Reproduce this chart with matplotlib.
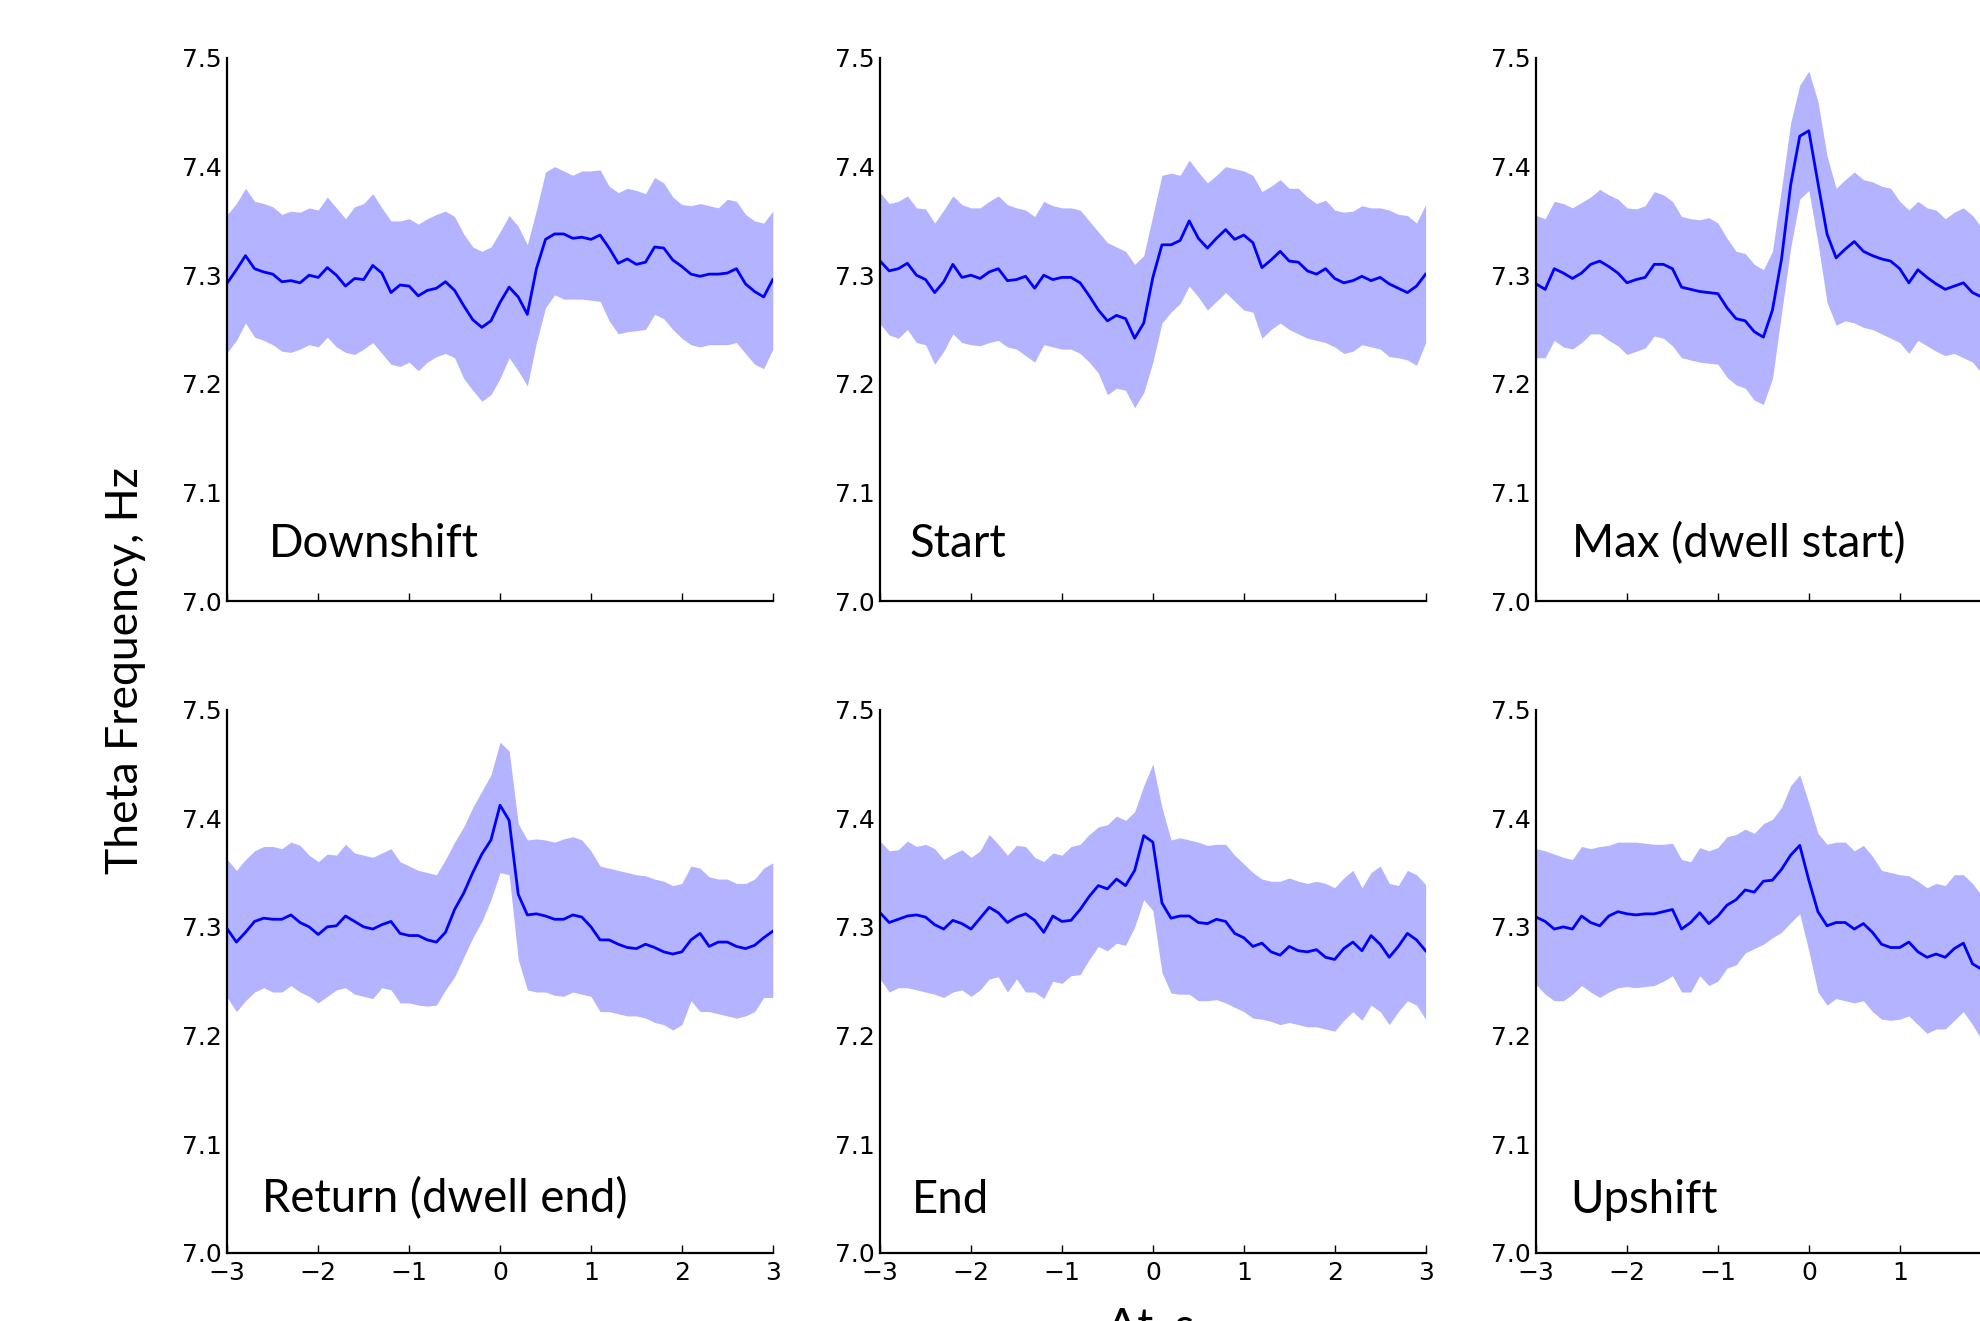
import matplotlib
matplotlib.use('Agg')
import matplotlib.pyplot as plt
import numpy as np
from matplotlib.ticker import FixedLocator, FixedFormatter, FormatStrFormatter

# time grid (s), 0.1 s steps; right column is cropped at about +1.9 s
t = np.linspace(-3, 3, 61)

downshift_mean = [7.293, 7.305, 7.318, 7.306, 7.303, 7.301, 7.294, 7.295, 7.293, 7.300,
                  7.298, 7.307, 7.300, 7.290, 7.297, 7.296, 7.309, 7.302, 7.284, 7.291,
                  7.290, 7.281, 7.286, 7.288, 7.294, 7.286, 7.272, 7.259, 7.252, 7.258,
                  7.275, 7.289, 7.280, 7.264, 7.306, 7.333, 7.338, 7.338, 7.334, 7.335,
                  7.333, 7.337, 7.325, 7.311, 7.315, 7.310, 7.312, 7.326, 7.325, 7.314,
                  7.308, 7.301, 7.299, 7.301, 7.301, 7.302, 7.306, 7.292, 7.285, 7.280,
                  7.296]
downshift_hi = [7.356, 7.366, 7.380, 7.368, 7.366, 7.363, 7.356, 7.359, 7.358, 7.362,
                7.360, 7.372, 7.362, 7.352, 7.363, 7.366, 7.375, 7.362, 7.350, 7.350,
                7.352, 7.347, 7.352, 7.356, 7.359, 7.354, 7.338, 7.326, 7.322, 7.326,
                7.340, 7.355, 7.345, 7.328, 7.360, 7.395, 7.400, 7.396, 7.392, 7.396,
                7.396, 7.397, 7.382, 7.376, 7.380, 7.378, 7.375, 7.390, 7.385, 7.372,
                7.365, 7.364, 7.366, 7.364, 7.362, 7.370, 7.368, 7.356, 7.350, 7.348,
                7.359]
downshift_lo = [7.229, 7.240, 7.256, 7.243, 7.240, 7.236, 7.230, 7.229, 7.232, 7.236,
                7.234, 7.243, 7.234, 7.229, 7.227, 7.232, 7.238, 7.228, 7.218, 7.216,
                7.220, 7.212, 7.220, 7.225, 7.228, 7.224, 7.205, 7.194, 7.184, 7.190,
                7.205, 7.224, 7.212, 7.198, 7.238, 7.270, 7.282, 7.278, 7.278, 7.278,
                7.277, 7.276, 7.258, 7.246, 7.248, 7.249, 7.250, 7.264, 7.260, 7.250,
                7.242, 7.236, 7.234, 7.236, 7.236, 7.236, 7.238, 7.228, 7.218, 7.214,
                7.232]

start_mean = [7.313, 7.304, 7.306, 7.311, 7.300, 7.296, 7.284, 7.294, 7.310, 7.298,
              7.300, 7.297, 7.303, 7.306, 7.295, 7.296, 7.299, 7.288, 7.300, 7.296,
              7.298, 7.298, 7.293, 7.281, 7.268, 7.258, 7.263, 7.260, 7.242, 7.256,
              7.298, 7.328, 7.328, 7.332, 7.350, 7.334, 7.325, 7.334, 7.342, 7.333,
              7.337, 7.330, 7.307, 7.314, 7.322, 7.313, 7.312, 7.304, 7.301, 7.306,
              7.297, 7.293, 7.295, 7.299, 7.295, 7.298, 7.292, 7.288, 7.284, 7.290,
              7.301]
start_hi = [7.376, 7.366, 7.368, 7.373, 7.362, 7.361, 7.348, 7.360, 7.373, 7.365,
            7.362, 7.362, 7.368, 7.373, 7.365, 7.362, 7.360, 7.354, 7.368, 7.364,
            7.362, 7.362, 7.360, 7.350, 7.340, 7.330, 7.326, 7.322, 7.310, 7.318,
            7.355, 7.392, 7.394, 7.392, 7.406, 7.395, 7.385, 7.392, 7.400, 7.398,
            7.396, 7.392, 7.377, 7.382, 7.388, 7.380, 7.380, 7.372, 7.366, 7.369,
            7.360, 7.358, 7.359, 7.364, 7.362, 7.362, 7.360, 7.356, 7.355, 7.348,
            7.365]
start_lo = [7.255, 7.245, 7.242, 7.250, 7.238, 7.236, 7.218, 7.230, 7.246, 7.238,
            7.236, 7.235, 7.238, 7.240, 7.234, 7.232, 7.226, 7.220, 7.236, 7.234,
            7.232, 7.232, 7.228, 7.220, 7.210, 7.190, 7.196, 7.194, 7.178, 7.192,
            7.220, 7.256, 7.266, 7.274, 7.290, 7.280, 7.268, 7.276, 7.284, 7.276,
            7.268, 7.266, 7.242, 7.250, 7.256, 7.250, 7.246, 7.242, 7.240, 7.238,
            7.234, 7.228, 7.230, 7.236, 7.234, 7.232, 7.225, 7.224, 7.222, 7.217,
            7.238]

max_mean = [7.292, 7.287, 7.306, 7.302, 7.297, 7.302, 7.310, 7.313, 7.308, 7.302,
            7.293, 7.296, 7.298, 7.310, 7.310, 7.306, 7.289, 7.287, 7.285, 7.284,
            7.283, 7.270, 7.260, 7.258, 7.248, 7.243, 7.268, 7.315, 7.383, 7.428,
            7.433, 7.385, 7.338, 7.316, 7.324, 7.331, 7.322, 7.318, 7.315, 7.313,
            7.306, 7.293, 7.305, 7.298, 7.292, 7.287, 7.290, 7.293, 7.284, 7.280,
            7.285]
max_hi = [7.355, 7.352, 7.368, 7.366, 7.362, 7.367, 7.372, 7.379, 7.374, 7.370,
          7.362, 7.361, 7.364, 7.377, 7.374, 7.368, 7.354, 7.352, 7.351, 7.353,
          7.348, 7.334, 7.322, 7.320, 7.310, 7.305, 7.322, 7.380, 7.440, 7.475,
          7.488, 7.460, 7.410, 7.380, 7.388, 7.395, 7.388, 7.386, 7.382, 7.380,
          7.368, 7.360, 7.368, 7.362, 7.360, 7.352, 7.358, 7.362, 7.355, 7.344,
          7.345]
max_lo = [7.224, 7.224, 7.240, 7.234, 7.232, 7.238, 7.246, 7.246, 7.240, 7.235,
          7.227, 7.230, 7.233, 7.244, 7.242, 7.235, 7.224, 7.222, 7.220, 7.219,
          7.218, 7.206, 7.199, 7.196, 7.185, 7.181, 7.205, 7.265, 7.325, 7.370,
          7.378, 7.330, 7.275, 7.254, 7.258, 7.256, 7.252, 7.250, 7.246, 7.242,
          7.238, 7.228, 7.240, 7.235, 7.230, 7.226, 7.228, 7.224, 7.220, 7.210,
          7.208]

return_mean = [7.298, 7.286, 7.295, 7.305, 7.308, 7.307, 7.307, 7.311, 7.304, 7.300,
               7.293, 7.300, 7.301, 7.310, 7.305, 7.300, 7.298, 7.302, 7.305, 7.294,
               7.292, 7.292, 7.288, 7.286, 7.295, 7.316, 7.331, 7.350, 7.367, 7.380,
               7.412, 7.398, 7.330, 7.311, 7.312, 7.310, 7.307, 7.307, 7.311, 7.309,
               7.300, 7.288, 7.288, 7.284, 7.281, 7.280, 7.284, 7.281, 7.277, 7.275,
               7.277, 7.288, 7.294, 7.282, 7.286, 7.286, 7.282, 7.280, 7.283, 7.290,
               7.296]
return_hi = [7.362, 7.352, 7.362, 7.370, 7.374, 7.374, 7.372, 7.378, 7.375, 7.366,
             7.360, 7.367, 7.366, 7.376, 7.368, 7.366, 7.364, 7.368, 7.372, 7.360,
             7.356, 7.352, 7.350, 7.348, 7.362, 7.378, 7.392, 7.410, 7.425, 7.440,
             7.470, 7.462, 7.395, 7.380, 7.381, 7.380, 7.378, 7.381, 7.383, 7.380,
             7.370, 7.356, 7.354, 7.352, 7.350, 7.348, 7.347, 7.344, 7.342, 7.338,
             7.340, 7.356, 7.354, 7.346, 7.344, 7.344, 7.340, 7.340, 7.344, 7.354,
             7.359]
return_lo = [7.235, 7.222, 7.232, 7.240, 7.244, 7.240, 7.240, 7.246, 7.240, 7.236,
             7.230, 7.236, 7.242, 7.244, 7.238, 7.236, 7.234, 7.244, 7.242, 7.230,
             7.230, 7.228, 7.227, 7.228, 7.242, 7.254, 7.272, 7.290, 7.305, 7.325,
             7.350, 7.348, 7.270, 7.242, 7.240, 7.240, 7.237, 7.236, 7.240, 7.238,
             7.236, 7.222, 7.222, 7.220, 7.218, 7.218, 7.216, 7.212, 7.210, 7.205,
             7.210, 7.232, 7.222, 7.222, 7.220, 7.218, 7.216, 7.218, 7.222, 7.235,
             7.235]

end_mean = [7.313, 7.304, 7.307, 7.310, 7.311, 7.309, 7.302, 7.298, 7.306, 7.303,
            7.298, 7.308, 7.318, 7.313, 7.304, 7.309, 7.312, 7.306, 7.295, 7.310,
            7.305, 7.306, 7.316, 7.328, 7.338, 7.335, 7.344, 7.338, 7.352, 7.384,
            7.378, 7.322, 7.308, 7.310, 7.310, 7.304, 7.303, 7.307, 7.305, 7.294,
            7.290, 7.282, 7.285, 7.277, 7.274, 7.282, 7.278, 7.277, 7.279, 7.272,
            7.270, 7.280, 7.286, 7.278, 7.292, 7.284, 7.272, 7.282, 7.294, 7.288,
            7.278]
end_hi = [7.379, 7.370, 7.371, 7.379, 7.374, 7.376, 7.372, 7.362, 7.367, 7.371,
          7.364, 7.370, 7.385, 7.376, 7.366, 7.375, 7.374, 7.364, 7.360, 7.368,
          7.366, 7.374, 7.376, 7.385, 7.392, 7.394, 7.402, 7.398, 7.406, 7.430,
          7.450, 7.410, 7.380, 7.382, 7.380, 7.378, 7.375, 7.376, 7.376, 7.366,
          7.358, 7.350, 7.344, 7.342, 7.342, 7.345, 7.342, 7.340, 7.342, 7.340,
          7.336, 7.345, 7.352, 7.336, 7.350, 7.356, 7.340, 7.338, 7.352, 7.348,
          7.339]
end_lo = [7.252, 7.240, 7.244, 7.244, 7.242, 7.240, 7.238, 7.235, 7.240, 7.242,
          7.236, 7.242, 7.252, 7.254, 7.240, 7.252, 7.240, 7.240, 7.234, 7.250,
          7.248, 7.255, 7.256, 7.270, 7.282, 7.278, 7.285, 7.283, 7.300, 7.325,
          7.315, 7.258, 7.239, 7.238, 7.238, 7.232, 7.232, 7.233, 7.230, 7.226,
          7.222, 7.216, 7.215, 7.213, 7.210, 7.212, 7.210, 7.208, 7.208, 7.206,
          7.204, 7.214, 7.222, 7.214, 7.228, 7.222, 7.210, 7.222, 7.232, 7.228,
          7.215]

upshift_mean = [7.309, 7.305, 7.298, 7.300, 7.298, 7.310, 7.304, 7.301, 7.310, 7.314,
                7.312, 7.311, 7.312, 7.312, 7.314, 7.316, 7.298, 7.304, 7.313, 7.303,
                7.310, 7.320, 7.325, 7.334, 7.332, 7.342, 7.343, 7.353, 7.366, 7.375,
                7.343, 7.314, 7.301, 7.304, 7.304, 7.298, 7.303, 7.295, 7.284, 7.281,
                7.281, 7.286, 7.277, 7.272, 7.275, 7.272, 7.280, 7.285, 7.266, 7.261,
                7.262]
upshift_hi = [7.372, 7.370, 7.367, 7.364, 7.362, 7.374, 7.372, 7.374, 7.375, 7.378,
              7.378, 7.378, 7.377, 7.376, 7.376, 7.377, 7.362, 7.360, 7.373, 7.370,
              7.373, 7.383, 7.385, 7.390, 7.386, 7.395, 7.399, 7.410, 7.430, 7.440,
              7.414, 7.386, 7.376, 7.378, 7.378, 7.370, 7.375, 7.365, 7.352, 7.350,
              7.348, 7.347, 7.342, 7.336, 7.340, 7.338, 7.348, 7.348, 7.340, 7.329,
              7.328]
upshift_lo = [7.247, 7.238, 7.232, 7.232, 7.238, 7.246, 7.240, 7.235, 7.240, 7.244,
              7.245, 7.244, 7.245, 7.246, 7.250, 7.255, 7.240, 7.240, 7.255, 7.246,
              7.250, 7.262, 7.265, 7.276, 7.280, 7.284, 7.290, 7.295, 7.304, 7.312,
              7.278, 7.240, 7.228, 7.234, 7.232, 7.230, 7.232, 7.222, 7.215, 7.214,
              7.215, 7.218, 7.210, 7.202, 7.206, 7.206, 7.214, 7.222, 7.210, 7.196,
              7.195]

labels = ['Downshift', 'Start', 'Max (dwell start)',
          'Return (dwell end)', 'End', 'Upshift']
means = [downshift_mean, start_mean, max_mean, return_mean, end_mean, upshift_mean]
highs = [downshift_hi, start_hi, max_hi, return_hi, end_hi, upshift_hi]
lows = [downshift_lo, start_lo, max_lo, return_lo, end_lo, upshift_lo]

xticks = [-3, -2, -1, 0, 1, 2, 3]
xtick_labels = ['\u22123', '\u22122', '\u22121', '0', '1', '2', '3']

label_font = 'Lato'

fig = plt.figure(figsize=(19.8, 13.21), dpi=100)

lefts = [0.1148, 0.4445, 0.7758]
bottoms = [0.5450, 0.0517]
width, height = 0.2755, 0.4111
label_x = [0.077, 0.053, 0.066, 0.063, 0.058, 0.062]
label_y = [0.081, 0.081, 0.081, 0.074, 0.074, 0.074]

for i in range(6):
    row, col = divmod(i, 3)
    ax = fig.add_axes([lefts[col], bottoms[row], width, height])
    n = len(means[i])
    ax.fill_between(t[:n], lows[i], highs[i], color='#b3b3ff', linewidth=0)
    ax.plot(t[:n], means[i], color='#0000ff', linewidth=2.0)

    ax.set_xlim(-3, 3)
    ax.set_ylim(7.0, 7.5)
    ax.xaxis.set_major_locator(FixedLocator(xticks))
    # right column is cut by the figure edge past +1
    if col == 2:
        ax.xaxis.set_major_formatter(FixedFormatter(xtick_labels[:5] + ['', '']))
    else:
        ax.xaxis.set_major_formatter(FixedFormatter(xtick_labels))
    ax.yaxis.set_major_locator(FixedLocator([7.0, 7.1, 7.2, 7.3, 7.4, 7.5]))
    ax.yaxis.set_major_formatter(FormatStrFormatter('%.1f'))

    for side in ['top', 'right']:
        ax.spines[side].set_visible(False)
    for side in ['left', 'bottom']:
        ax.spines[side].set_linewidth(1.6)

    ax.tick_params(axis='x', direction='in', length=5.5, width=1.0,
                   labelsize=18, pad=6, top=False)
    ax.tick_params(axis='y', length=0, labelsize=18, pad=4, right=False)
    if row == 0:
        ax.tick_params(axis='x', labelbottom=False)

    ax.text(label_x[i], label_y[i], labels[i], transform=ax.transAxes,
            fontsize=32.8, family=label_font, ha='left', va='baseline')

# shared axis labels
fig.text(0.0636, 0.4924, 'Theta Frequency, Hz', rotation=90, fontsize=32,
         family=label_font, ha='center', va='center')
fig.text(0.581, 0.0106, '\u0394t, s', fontsize=32, family=label_font,
         ha='center', va='top')

fig.savefig('out.png', dpi=100)
